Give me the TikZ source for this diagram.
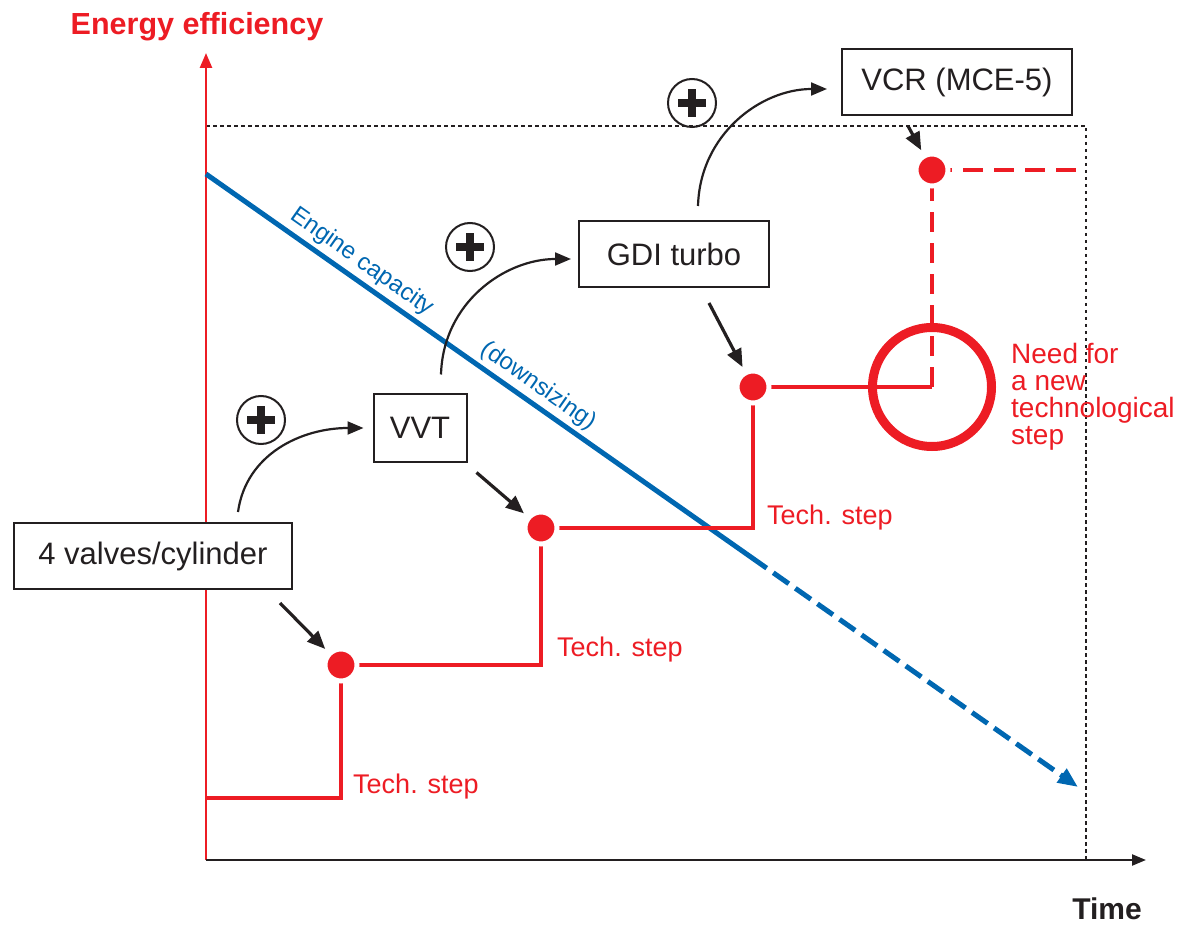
\documentclass[tikz,border=0pt]{standalone}
\usepackage{fontspec}
\setmainfont{Liberation Sans}
\usepackage{xcolor}
\usepackage{tikz}
\usetikzlibrary{arrows.meta, positioning, calc}
\definecolor{effred}{HTML}{ED1C24}
\definecolor{capblue}{HTML}{0067B1}
\definecolor{inkblack}{HTML}{231F20}

\begin{document}
\begin{tikzpicture}[
    x=1pt, y=-1pt,
    tech/.style={
      rectangle, draw=inkblack, line width=2pt, fill=white, text=inkblack,
      font=\fontsize{31}{37}\selectfont, minimum height=66pt, align=center
    },
    stepdot/.style={circle, fill=effred, draw=white, line width=5pt, minimum size=32pt, inner sep=0pt},
    steplabel/.style={text=effred, font=\fontsize{27}{27}\selectfont, inner sep=0pt, align=left},
    caplabel/.style={sloped, above=4pt, inner sep=0pt, text=capblue, font=\fontsize{24}{24}\selectfont},
    plus/.style={
      circle, draw=inkblack, line width=2pt, minimum size=48pt, inner sep=0pt,
      path picture={
        \draw[inkblack, line width=7.5pt]
          ([xshift=-14pt]path picture bounding box.center) -- ([xshift=14pt]path picture bounding box.center)
          ([yshift=-14pt]path picture bounding box.center) -- ([yshift=14pt]path picture bounding box.center);
      }
    },
    gain/.style={-{Triangle[length=16pt, width=13pt]}, inkblack, line width=2.2pt},
    hit/.style={-{Triangle[length=18pt, width=15pt]}, inkblack, line width=3.2pt, shorten >=4pt},
    stair/.style={effred, line width=4pt},
    stairnext/.style={effred, line width=4.5pt, dash pattern=on 20pt off 11pt},
    capline/.style={capblue, line width=5pt},
    frame/.style={inkblack, line width=2pt, dash pattern=on 3.5pt off 3.5pt},
  ]
  \useasboundingbox (0,0) rectangle (1184,925);

  % axes and frame
  \coordinate (origin) at (206,860);
  \coordinate (frameNE) at (1086,126);
  \draw[frame] (origin |- frameNE) -- (frameNE) -- (frameNE |- origin);
  \draw[effred, line width=2.5pt, -{Triangle[length=15pt, width=12pt]}] (origin) -- (206,53);
  \draw[inkblack, line width=2.3pt, -{Triangle[length=14pt, width=11pt]}] (origin) -- (1146,860);
  \node[font=\bfseries\fontsize{30.5}{36}\selectfont, text=effred] (effaxis) at (197,27) {Energy efficiency};
  \node[font=\bfseries\fontsize{30}{36}\selectfont, text=inkblack] (timeaxis) at (1107,909) {Time};

  % engine capacity
  \coordinate (capstart) at (206,174);
  \coordinate (capend) at (1078,787);
  \coordinate (capbreak) at ($(capstart)!0.643!(capend)$);
  \draw[capline] (capstart) -- node[caplabel, pos=0.26] {Engine capacity}
    node[caplabel, pos=0.575] {(downsizing)} (capbreak);
  \draw[capline, dash pattern=on 19pt off 8pt, dash phase=19pt,
    -{Triangle[length=20pt, width=16pt]}] (capbreak) -- (capend);

  % technology steps
  \coordinate (s0) at (206,798);
  \coordinate (s1) at (341,665);
  \coordinate (s2) at (541,528);
  \coordinate (s3) at (753,387);
  \coordinate (s4) at (932,170);
  \node[circle, draw=effred, line width=9pt, minimum size=119pt, inner sep=0pt] (gap) at (932,387) {};
  \draw[stair] (s0) -| (s1) -| (s2) -| (s3) -- (gap.center);
  \draw[stairnext] (gap.center) -- (s4) -- (s4 -| frameNE);
  \node[stepdot] (d1) at (s1) {};
  \node[stepdot] (d2) at (s2) {};
  \node[stepdot] (d3) at (s3) {};
  \node[stepdot] (d4) at (s4) {};

  \node[steplabel, anchor=west] (t1) at (353,787) {Tech. step};
  \node[steplabel, anchor=west] (t2) at (557,650) {Tech. step};
  \node[steplabel, anchor=west] (t3) at (767,518) {Tech. step};
  \node[steplabel, anchor=north west, font=\fontsize{28}{27}\selectfont] (need) at (1011,343)
    {Need for\\a new\\technological\\step};

  % engine technologies
  \node[tech, minimum width=278pt] (valves) at (153,556) {4 valves/cylinder};
  \node[tech, minimum width=93pt, minimum height=67pt] (vvt) at (420,428) {VVT};
  \node[tech, minimum width=190pt] (gdi) at (674,254) {GDI turbo};
  \node[tech, minimum width=230pt] (vcr) at (957,82) {VCR (MCE-5)};

  \node[plus] (plus1) at (261,420) {};
  \node[plus] (plus2) at (470,247) {};
  \node[plus] (plus3) at (692,103) {};

  \draw[gain] ([xshift=85pt, yshift=10pt]valves.north) .. controls +(8,-58) and +(-62,0) .. ([xshift=-9pt]vvt.west);
  \draw[gain] ([xshift=21pt, yshift=19pt]vvt.north) .. controls +(2,-72) and +(-66,0) .. ([xshift=-7pt, yshift=-5pt]gdi.west);
  \draw[gain] ([xshift=24pt, yshift=14pt]gdi.north) .. controls +(2,-72) and +(-66,0) .. ([xshift=-14pt, yshift=-7pt]vcr.west);

  \draw[hit] ([xshift=-13pt, yshift=-13pt]valves.south east) -- (d1);
  \draw[hit] ([xshift=9pt, yshift=-10pt]vvt.south east) -- (d2);
  \draw[hit] ([xshift=35pt, yshift=-15pt]gdi.south) -- (d3);
  \draw[hit] ([xshift=-49pt, yshift=-10pt]vcr.south) -- (d4);
\end{tikzpicture}
\end{document}
